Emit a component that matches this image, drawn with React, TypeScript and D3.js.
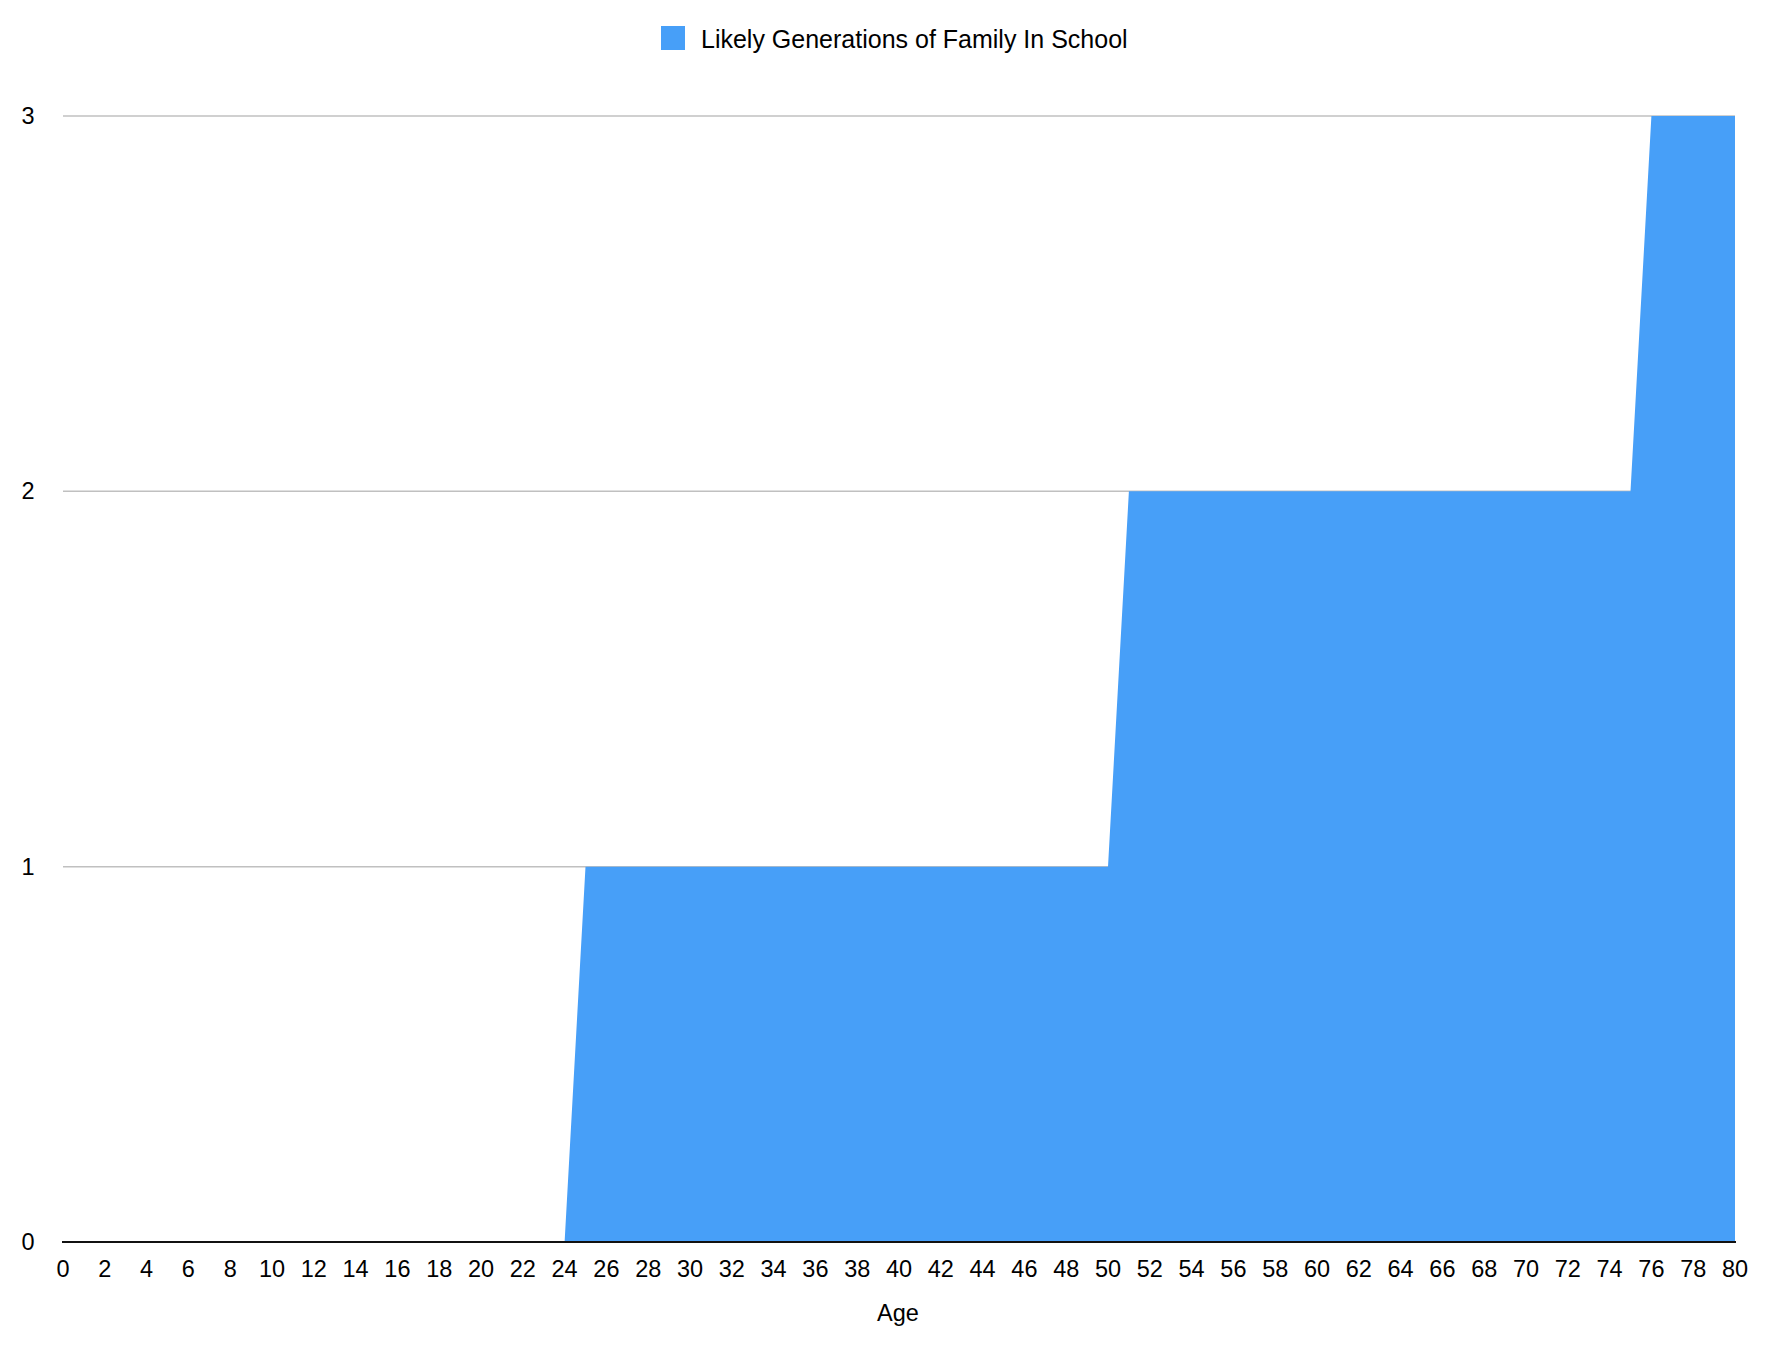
import React from "react";
import * as d3 from "d3";

const ages: number[] = Array.from({ length: 81 }, (_, i) => i);
const generations: number[] = [
  0, 0, 0, 0, 0, 0, 0, 0, 0, 0,
  0, 0, 0, 0, 0, 0, 0, 0, 0, 0,
  0, 0, 0, 0, 0, 1, 1, 1, 1, 1,
  1, 1, 1, 1, 1, 1, 1, 1, 1, 1,
  1, 1, 1, 1, 1, 1, 1, 1, 1, 1,
  1, 2, 2, 2, 2, 2, 2, 2, 2, 2,
  2, 2, 2, 2, 2, 2, 2, 2, 2, 2,
  2, 2, 2, 2, 2, 2, 3, 3, 3, 3,
  3,
];
const xTicks: number[] = d3.range(0, 81, 2);
const yTicks: number[] = [0, 1, 2, 3];
const seriesName = "Likely Generations of Family In School";
const xTitle = "Age";

const W = 1792;
const H = 1356;
const FONT = "Helvetica, 'Liberation Sans', Arial, sans-serif";
const FS = 23.5;
const LEG_FS = 25;

export default function App() {
  const x = d3.scaleLinear().domain([0, 80]).range([63, 1735]);
  const y = d3.scaleLinear().domain([0, 3]).range([1242, 116]);
  const data = ages.map((a, i) => ({ a, v: generations[i] }));
  const area = d3
    .area<{ a: number; v: number }>()
    .x((d) => x(d.a))
    .y0(y(0))
    .y1((d) => y(d.v));

  return (
    <svg
      width={W}
      height={H}
      style={{ position: "absolute", left: 0, top: 0, background: "#fff" }}
      fontFamily={FONT}
    >
      <rect width={W} height={H} fill="#fff" />
      {yTicks.filter((t) => t > 0).map((t) => (
        <line key={t} x1={x(0)} x2={x(80)} y1={y(t)} y2={y(t)} stroke="#c0c0c0" strokeWidth={1.5} />
      ))}
      <path d={area(data) || ""} fill="#479ff8" />
      <line x1={x(0) - 1} x2={x(80) + 1} y1={y(0)} y2={y(0)} stroke="#111" strokeWidth={2} />
      {yTicks.map((t) => (
        <text key={t} x={28} y={y(t)} textAnchor="middle" dominantBaseline="central" fontSize={FS} fill="#000">
          {t}
        </text>
      ))}
      {xTicks.map((t) => (
        <text key={t} x={x(t)} y={1269} textAnchor="middle" dominantBaseline="central" fontSize={FS} fill="#000">
          {t}
        </text>
      ))}
      <text x={898} y={1313} textAnchor="middle" dominantBaseline="central" fontSize={FS} fill="#000">
        {xTitle}
      </text>
      <rect x={661} y={26} width={24} height={24} fill="#479ff8" />
      <text x={701} y={39} dominantBaseline="central" fontSize={LEG_FS} fill="#000">
        {seriesName}
      </text>
    </svg>
  );
}
